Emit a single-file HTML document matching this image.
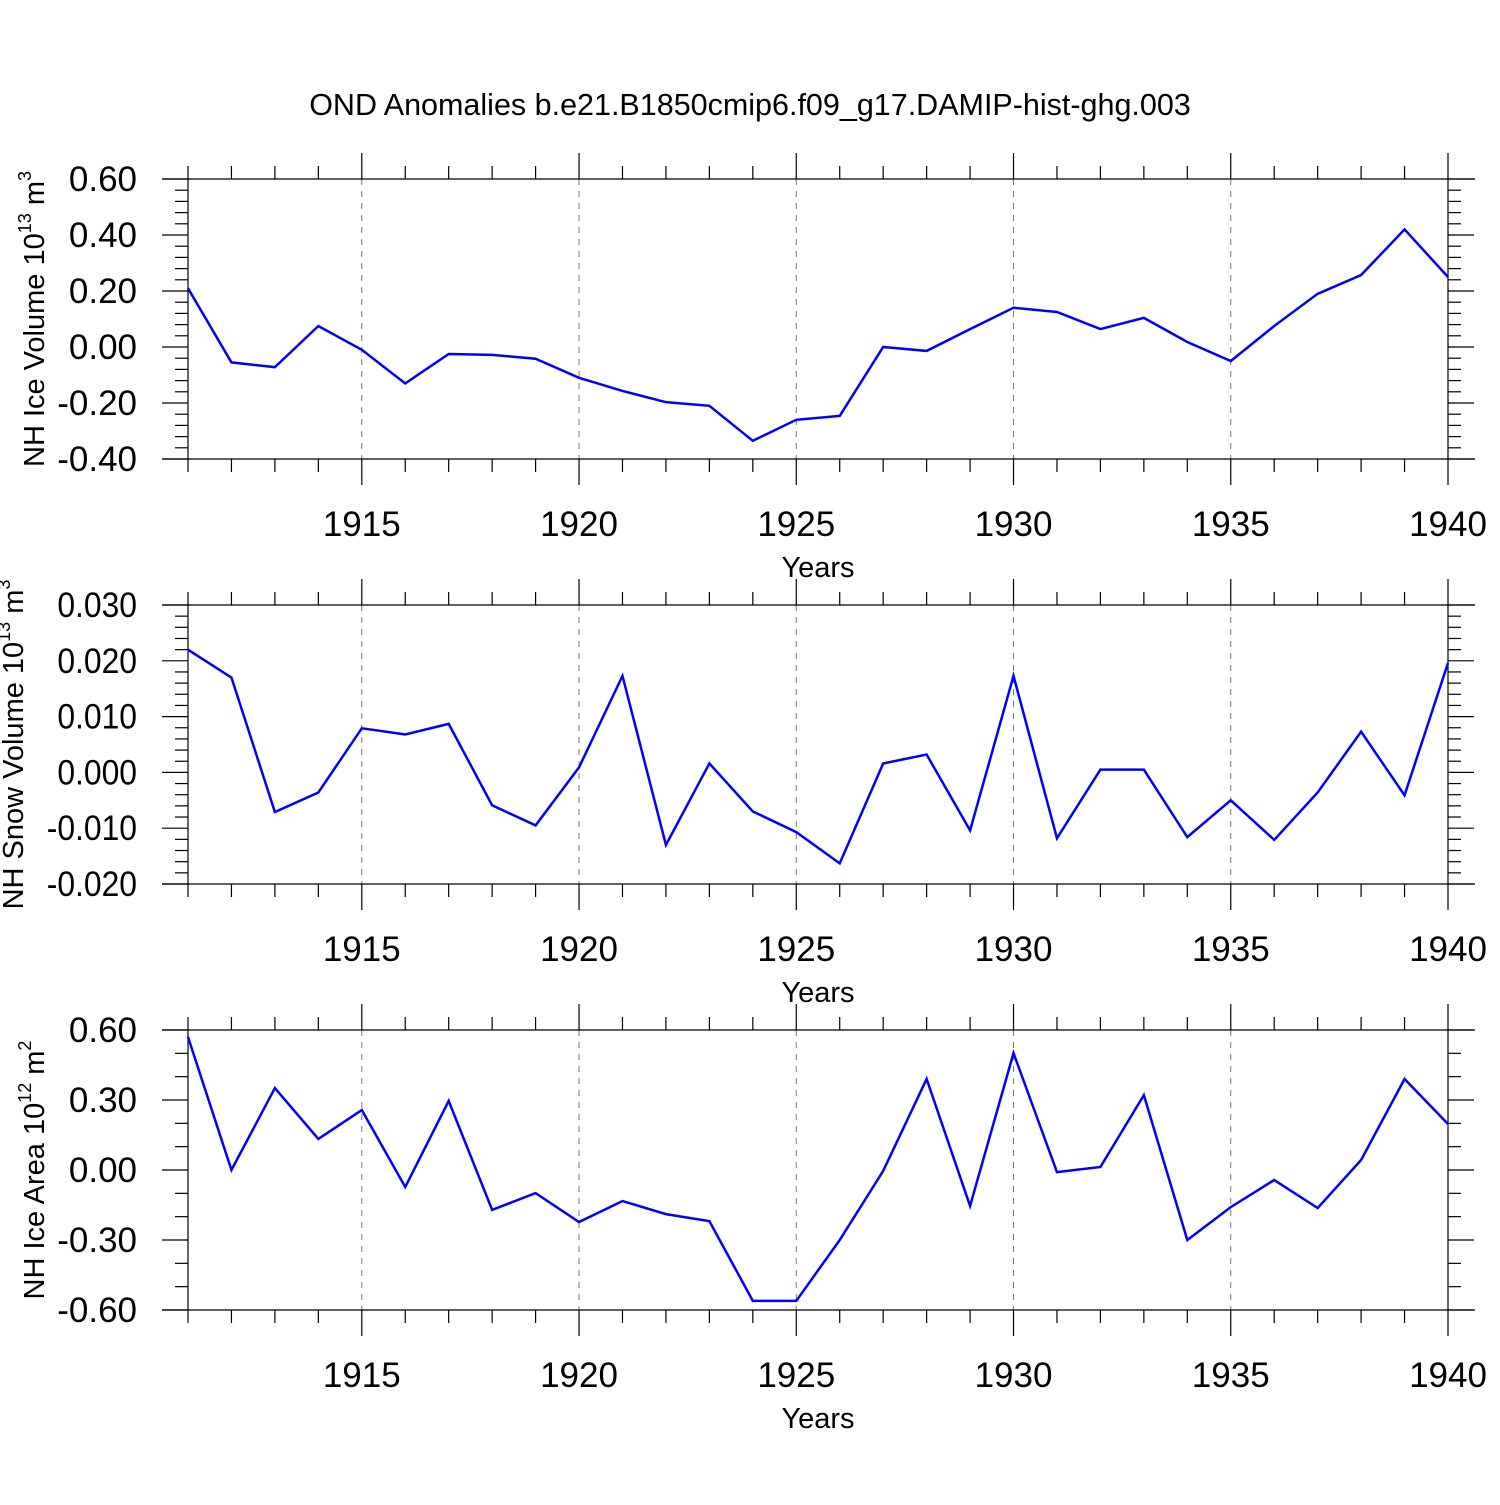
<!DOCTYPE html>
<html><head><meta charset="utf-8"><style>
body{margin:0;background:#fff}
svg text{font-family:"Liberation Sans",Arial,sans-serif;fill:#000}
</style></head><body>
<svg id="chart" width="1500" height="1500" xmlns="http://www.w3.org/2000/svg">
<text x="750" y="115" font-size="30.5" text-anchor="middle">OND Anomalies b.e21.B1850cmip6.f09_g17.DAMIP-hist-ghg.003</text>
</svg>
<script>
const years = [1911,1912,1913,1914,1915,1916,1917,1918,1919,1920,1921,1922,1923,1924,1925,1926,1927,1928,1929,1930,1931,1932,1933,1934,1935,1936,1937,1938,1939,1940];
const iceVolume = [0.21,-0.055,-0.072,0.075,-0.01,-0.13,-0.025,-0.028,-0.042,-0.11,-0.157,-0.197,-0.21,-0.335,-0.26,-0.246,0.0,-0.014,0.064,0.14,0.125,0.064,0.104,0.018,-0.05,0.075,0.19,0.257,0.42,0.25];
const snowVolume = [0.022,0.017,-0.0071,-0.0036,0.0079,0.0068,0.0087,-0.0059,-0.0095,0.0009,0.0173,-0.013,0.0016,-0.007,-0.0107,-0.0163,0.0016,0.0032,-0.0104,0.0173,-0.0118,0.0005,0.0005,-0.0116,-0.005,-0.0121,-0.0036,0.0073,-0.0041,0.0196];
const iceArea = [0.57,0.0,0.351,0.133,0.257,-0.073,0.296,-0.171,-0.099,-0.223,-0.133,-0.189,-0.219,-0.561,-0.561,-0.30,-0.004,0.39,-0.154,0.501,-0.009,0.013,0.321,-0.30,-0.159,-0.043,-0.163,0.043,0.39,0.197];
const xTickLabels = [1915,1920,1925,1930,1935,1940];
const yTicks1 = ["0.60","0.40","0.20","0.00","-0.20","-0.40"];
const yTicks2 = ["0.030","0.020","0.010","0.000","-0.010","-0.020"];
const yTicks3 = ["0.60","0.30","0.00","-0.30","-0.60"];

const NS="http://www.w3.org/2000/svg";
const svg=document.getElementById('chart');
function mk(tag,attrs,parent){const e=document.createElementNS(NS,tag);for(const k in attrs)e.setAttribute(k,attrs[k]);(parent||svg).appendChild(e);return e;}
const X0=188,X1=1448;
function xs(y){return X0+(y-1911)*(X1-X0)/29;}

function panel(name,top,bot,vmax,vmin,ticks,minorStep,data,titleMain,exp,unit,squeeze,titleX){
  const g=mk('g',{});
  
  
  const ys=v=>top+(vmax-v)*(bot-top)/(vmax-vmin);
  const st={stroke:'#000','stroke-width':1.2};
  for(const t of xTickLabels){ if(t<1940){const l=mk('line',{x1:xs(t),x2:xs(t),y1:top,y2:bot,stroke:'#777','stroke-width':1,'stroke-dasharray':'6,6'},g);
    }}
  mk('line',Object.assign({x1:162,x2:1475,y1:top,y2:top},st),g);
  mk('line',Object.assign({x1:162,x2:1475,y1:bot,y2:bot},st),g);
  mk('line',Object.assign({x1:X0,x2:X0,y1:top,y2:bot},st),g);
  mk('line',Object.assign({x1:X1,x2:X1,y1:top,y2:bot},st),g);
  for(const y of years){const maj=y%5===0;const L=maj?26:13;
    mk('line',Object.assign({x1:xs(y),x2:xs(y),y1:top-L,y2:top},st),g);
    mk('line',Object.assign({x1:xs(y),x2:xs(y),y1:bot,y2:bot+L},st),g);}
  for(const t of xTickLabels){const tx=mk('text',{x:xs(t),y:bot+77,'font-size':35,'text-anchor':'middle'},g);tx.textContent=t;
    }
  const xt=mk('text',{x:818,y:bot+118,'font-size':29,'text-anchor':'middle'},g);xt.textContent='Years';
  
  const n=Math.round((vmax-vmin)/minorStep);
  for(let i=0;i<=n;i++){const v=vmax-i*minorStep;const y=ys(v);
    const maj=ticks.some(t=>Math.abs(parseFloat(t)-v)<minorStep/10);const L=maj?26:13;
    mk('line',Object.assign({x1:X0-L,x2:X0,y1:y,y2:y},st),g);
    mk('line',Object.assign({x1:X1,x2:X1+L,y1:y,y2:y},st),g);}
  for(const t of ticks){const ty=ys(parseFloat(t))+12;
    const tx=mk('text',{x:0,y:0,'font-size':35,'text-anchor':'end',transform:`translate(137,${ty}) scale(${squeeze},1)`},g);tx.textContent=t;
    }
  const cy=(top+bot)/2;
  const yt=mk('text',{x:0,y:0,'font-size':29,'text-anchor':'middle',transform:`translate(${titleX},${cy}) rotate(-90)`},g);
  
  const s1=mk('tspan',{},yt);s1.textContent=titleMain+' 10';
  const s2=mk('tspan',{dy:-13,'font-size':18},yt);s2.textContent=exp;
  const s3=mk('tspan',{dy:13},yt);s3.textContent=' m';
  const s4=mk('tspan',{dy:-13,'font-size':18},yt);s4.textContent=unit;
  const pts=years.map((y,i)=>xs(y)+','+ys(data[i])).join(' ');
  const pl=mk('polyline',{points:pts,fill:'none',stroke:'#0000ff','stroke-width':2.5},g);
  
}
panel('ice-volume',179,459,0.6,-0.4,yTicks1,0.04,iceVolume,'NH Ice Volume','13','3',1,44);
panel('snow-volume',605,884,0.03,-0.02,yTicks2,0.002,snowVolume,'NH Snow Volume','13','3',0.91,23);
panel('ice-area',1030,1310,0.6,-0.6,yTicks3,0.1,iceArea,'NH Ice Area','12','2',1,44);
</script>
</body></html>
